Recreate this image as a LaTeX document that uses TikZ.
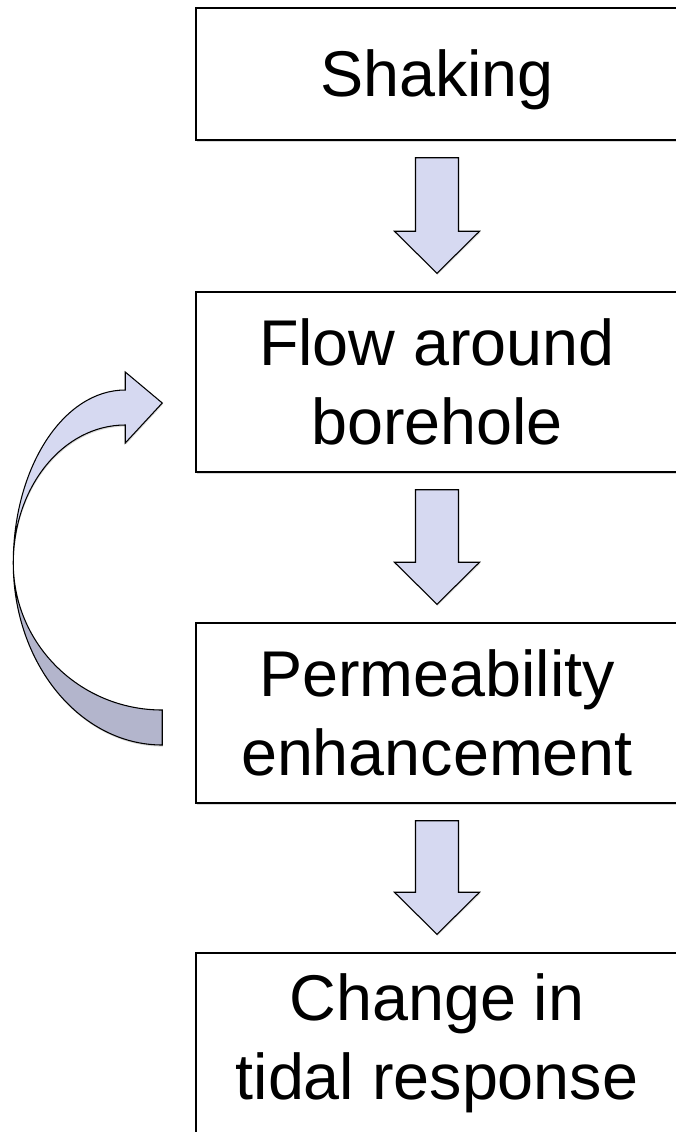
\documentclass[tikz,border=0pt]{standalone}
\usepackage{fontspec}
\setmainfont{Liberation Sans}
\usetikzlibrary{calc,shadows}

\definecolor{arrowfill}{RGB}{214,217,241}
\definecolor{arrowback}{RGB}{179,181,204}

\tikzset{
	stagebox/.style={draw, line width=1.1pt, fill=white, inner sep=0pt, align=center,
		minimum width=361.5pt, font=\fontsize{48.5}{59}\selectfont,
		drop shadow={shadow xshift=0.4pt, shadow yshift=-1.2pt, opacity=0.3}},
	fatarrow/.style={draw, line width=0.8pt, fill=arrowfill, line join=miter,
		drop shadow={shadow xshift=0.4pt, shadow yshift=-1.2pt, opacity=0.3}},
}

% block arrow from the bottom of one box to the top of the next
\newcommand{\downarrowbetween}[2]{%
	\draw [fatarrow] ($(#1.south)+(-21.5,17)$) -- ($(#1.south)+(21.5,17)$)
		-- ($(#2.north)+(21.5,-60)$) -- ($(#2.north)+(42.5,-60)$)
		-- ($(#2.north)+(0,-18)$) -- ($(#2.north)+(-42.5,-60)$)
		-- ($(#2.north)+(-21.5,-60)$) -- cycle;}

\begin{document}
\begin{tikzpicture}[x=0.75pt,y=0.75pt,yscale=-1,xscale=1]
	\useasboundingbox (0,0) rectangle (675,1132);

	\node [stagebox, minimum height=99pt, text height=33pt, text depth=0pt] (shake) at (437,74) {Shaking};
	\node [stagebox, minimum height=135pt] (flow) at (437,382) {Flow around\\borehole};
	\node [stagebox, minimum height=135pt] (perm) at (437,713) {Permeability\\enhancement};
	\node [stagebox, minimum height=135pt] (tide) at (437,1043) {Change in\\tidal response};

	\downarrowbetween{shake}{flow}
	\downarrowbetween{flow}{perm}
	\downarrowbetween{perm}{tide}

	% feedback loop, back face and front face
	\coordinate (loopend) at ($(perm.west)+(-33,-3)$);
	\coordinate (looptip) at ($(flow.west)+(-33,21)$);
	\draw [fatarrow, fill=arrowback] (loopend) arc [start angle=90, end angle=180, x radius=149, y radius=147]
		arc [start angle=180, end angle=90, x radius=149, y radius=182] -- cycle;
	\draw [fatarrow] ($(loopend)+(-149,-147)$) arc [start angle=180, end angle=270, x radius=112, y radius=173]
		-- ++(0,-18) -- (looptip) -- ($(looptip)+(-37,40)$) -- ++(0,-18)
		arc [start angle=270, end angle=180, x radius=112, y radius=138] -- cycle;
\end{tikzpicture}
\end{document}
